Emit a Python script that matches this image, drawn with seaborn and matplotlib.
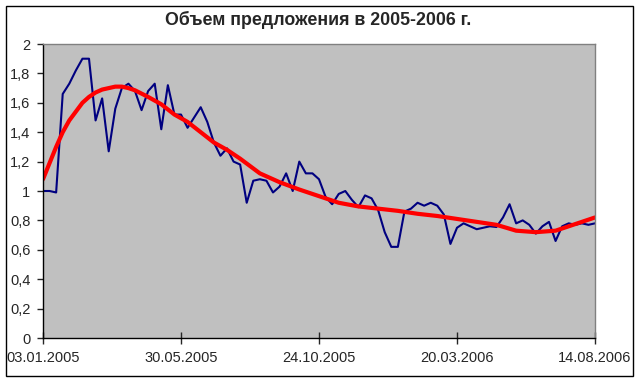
import numpy as np
import pandas as pd
import matplotlib
matplotlib.use("Agg")
import matplotlib.pyplot as plt
from matplotlib.patches import Rectangle
import seaborn as sns

# weekly supply volume, 03.01.2005 .. 14.08.2006 (85 weeks)
week = list(range(85))
volume = [
    1.00, 1.00, 0.99, 1.66, 1.73, 1.82, 1.90, 1.90, 1.48, 1.63,
    1.27, 1.56, 1.70, 1.73, 1.68, 1.55, 1.68, 1.73, 1.42, 1.72,
    1.52, 1.52, 1.43, 1.50, 1.57, 1.47, 1.33, 1.24, 1.29, 1.20,
    1.18, 0.92, 1.07, 1.08, 1.07, 0.99, 1.03, 1.12, 1.00, 1.20,
    1.12, 1.12, 1.08, 0.96, 0.91, 0.98, 1.00, 0.94, 0.89, 0.97,
    0.95, 0.87, 0.72, 0.62, 0.62, 0.86, 0.88, 0.92, 0.90, 0.92,
    0.90, 0.84, 0.64, 0.75, 0.78, 0.76, 0.74, 0.75, 0.76, 0.755,
    0.82, 0.91, 0.78, 0.80, 0.77, 0.71, 0.76, 0.79, 0.66, 0.76,
    0.78, 0.77, 0.78, 0.77, 0.78,
]

# trend line (red)
trend_week = [0, 1, 2, 3, 4, 5, 6, 7, 8, 9, 10, 11, 12, 13, 14, 16, 18, 20,
              22, 24, 26, 28, 30, 33, 36, 39, 42, 45, 48, 51, 54, 57, 60, 63,
              66, 69, 72, 75, 78, 80, 82, 84]
trend_value = [1.08, 1.19, 1.30, 1.40, 1.48, 1.54, 1.60, 1.64, 1.67, 1.69,
               1.70, 1.71, 1.71, 1.70, 1.685, 1.64, 1.59, 1.52, 1.47, 1.40,
               1.33, 1.28, 1.22, 1.12, 1.06, 1.01, 0.965, 0.92, 0.895, 0.88,
               0.865, 0.845, 0.83, 0.81, 0.79, 0.77, 0.73, 0.72, 0.73, 0.76,
               0.79, 0.82]

xtick_pos = [0, 21, 42, 63, 84]
xtick_labels = ["03.01.2005", "30.05.2005", "24.10.2005", "20.03.2006", "14.08.2006"]
ytick_pos = [0, 0.2, 0.4, 0.6, 0.8, 1.0, 1.2, 1.4, 1.6, 1.8, 2.0]
ytick_labels = ["0", "0,2", "0,4", "0,6", "0,8", "1", "1,2", "1,4", "1,6", "1,8", "2"]

df = pd.DataFrame({"week": week, "volume": volume})
trend = pd.DataFrame({"week": trend_week, "volume": trend_value})

sns.set_style("white")
plt.rcParams["font.family"] = ["Liberation Sans", "DejaVu Sans"]

fig = plt.figure(figsize=(6.42, 3.79), dpi=100)
ax = fig.add_axes([43 / 642, 1 - 338 / 379, 552 / 642, 294 / 379])
ax.set_facecolor("#C0C0C0")

sns.lineplot(data=df, x="week", y="volume", color="#000080", lw=1.5, ax=ax)
sns.lineplot(data=trend, x="week", y="volume", color="#FF0000", lw=3, ax=ax)

ax.set_xlim(0, 84)
ax.set_ylim(0, 2)
ax.set_xticks(xtick_pos)
ax.set_xticklabels(xtick_labels)
ax.set_yticks(ytick_pos)
ax.set_yticklabels(ytick_labels)
ax.set_xlabel("")
ax.set_ylabel("")
ax.tick_params(axis="x", direction="inout", length=8, width=1, pad=5,
               labelsize=10.5, bottom=True)
ax.tick_params(axis="y", direction="out", length=4, width=1, pad=5,
               labelsize=10.5, left=True)

for side in ["top", "right"]:
    ax.spines[side].set_color("#808080")
    ax.spines[side].set_linewidth(1)
for side in ["left", "bottom"]:
    ax.spines[side].set_color("black")
    ax.spines[side].set_linewidth(1)

fig.text(318 / 642, 1 - 20 / 379, "Объем предложения в 2005-2006 г.",
         ha="center", va="center", fontsize=12.75, fontweight="bold")

fig.patches.append(Rectangle((6 / 642, 3 / 379), 627 / 642, 370 / 379,
                             transform=fig.transFigure, fill=False,
                             edgecolor="black", lw=1))

fig.savefig("out.png", dpi=100)
